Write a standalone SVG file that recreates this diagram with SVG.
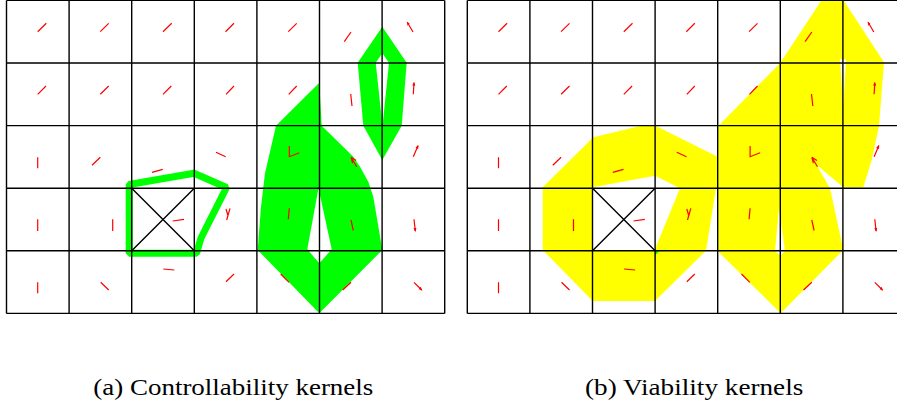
<svg xmlns="http://www.w3.org/2000/svg" xmlns:xlink="http://www.w3.org/1999/xlink" width="897" height="405" viewBox="0 0 897 405">
<style>
.grid{fill:none;stroke:#000;stroke-width:1.4}
.g{fill:#00ff00;stroke:none}
.y{fill:#ffff00;stroke:none}
.hole{fill:#fff;stroke:none}
.ring{fill:none;stroke:#00ff00;stroke-width:7;stroke-linejoin:bevel}
.ar{fill:none;stroke:#ff0000;stroke-width:1.2;marker-end:url(#ah)}
.ar2{fill:none;stroke:#ff0000;stroke-width:1.2;stroke-linejoin:miter}
.cap{font-family:"Liberation Serif","Times New Roman",serif;font-size:23px;fill:#000}
</style>
<defs>
<marker id="ah" viewBox="0 0 4 4" refX="3" refY="2" markerWidth="4" markerHeight="4" markerUnits="userSpaceOnUse" orient="auto">
<path d="M0,0.5 L4,2 L0,3.5z" fill="#ff0000"/>
</marker>
<g id="field">
<path class="ar" d="M37.7,31.7L46.3,23.3M100.3,31.7L108.7,23.3M163,31.7L171.7,23.3M225.5,31.7L234,23.3M288.3,31.7L296.7,23.3M351,32L344.3,41.7M413,32L407.3,22.3"/>
<path class="ar" d="M37.7,94.3L46,86M100.3,94.3L108.7,86M163,94.3L171.3,86M226,94.3L234,86M288.7,94.3L296.7,86M350.7,94L352,106M413.3,94.3L414,82.7"/>
<path class="ar" d="M37.7,157.3L37.7,168.3M100.3,157.3L92,165.3M162.7,169.3L152,172.3M225.7,156.7L216,152.3M413.3,156.7L418,145.7"/>
<path class="ar2" d="M289.3,146L289.3,156.7L299.3,152.7M356.7,166.7L351,157.3M351,157.3L352.6,163.2M351,157.3L356.2,160.6"/>
<path class="ar" d="M37.7,219.3L37.7,231M112.7,219.3L112.7,231M184,219.3L172.7,221M288.3,219.3L289.3,208.3M351,220L353.3,230.5M414,219.3L415.3,231"/>
<path class="ar2" d="M230,208.3L226.7,220M226,209L227.8,215"/>
<path class="ar" d="M37.7,282.3L37.7,293.3M100.7,282.3L108.7,290M163.3,269L174.3,270M226,281.7L234,274M289,282.3L280.7,274M351,282.3L342.7,290M414,282.3L421.7,290"/>
</g>
</defs>
<rect width="897" height="405" fill="#fff"/>

<g id="panel-a">
<g id="kernels-a">
<path class="g" fill-rule="evenodd" d="M319.3,82.7L321.7,125.7L353.3,156.7L360,166.7L368.3,181.7L373.3,196.7L382.3,250L319.3,313.3L257.7,250L261,206.7L265,173.3L272.7,140L276,125.7Z M318.5,188.3L331.7,249.3L319.3,263.3L307.3,249.3Z"/>
<path class="g" fill-rule="evenodd" d="M382.3,26.7L406.7,62.7L401.7,125.7L382.3,160L363.3,125.7L357.7,62.7Z M382.3,53.3L389,62.7L382.5,126L375.7,62.7Z"/>
<path class="ring" d="M129.2,184.5L194,173.3L226.5,187.5L201,238L196.5,253.3L129.2,253.3Z"/>
</g>
<g id="grid-a">
<path class="grid" d="M6.5,0.4V313.4M69.1,0.4V313.4M131.7,0.4V313.4M194.3,0.4V313.4M256.9,0.4V313.4M319.5,0.4V313.4M382.1,0.4V313.4M444.7,0.4V313.4M6.5,0.4H444.7M6.5,63H444.7M6.5,125.6H444.7M6.5,188.2H444.7M6.5,250.8H444.7M6.5,313.4H444.7"/>
<path class="grid" d="M131.7,188.2L194.3,250.8M194.3,188.2L131.7,250.8"/>
</g>
<use id="field-a" xlink:href="#field" href="#field"/>
<text id="caption-a" class="cap" x="93.3" y="395" textLength="280" lengthAdjust="spacingAndGlyphs">(a) Controllability kernels</text>
</g>

<g id="panel-b">
<g id="kernels-b">
<path class="y" fill-rule="evenodd" d="M542.7,187.3L593.3,137.3L640,126L656,126L717.7,156.7L718,188.3L716,188.3L706,250.7L655,301L592.7,301L542.7,250Z M592.7,187.3L655,175.7L680,188.3L656.7,245L655,250.7L592.7,250.7Z"/>
<path class="y" fill-rule="evenodd" d="M821.7,0L843.3,0L884,62.3L879,126L871.7,160L863.3,187.3L843.3,187.3L816.7,165L830,188.3L843.3,250L780.7,313.3L718.3,251.7L718.3,126L780,63.3Z M840,59L846,59.5L843.3,107Z M779,208L785,250.7L780.5,256L775,250.7Z"/>
<path class="g" d="M655,250.7L659.5,250.7L655,255.5Z"/>
</g>
<g id="grid-b">
<path class="grid" d="M467.3,0.4V313.4M529.9,0.4V313.4M592.5,0.4V313.4M655.1,0.4V313.4M717.7,0.4V313.4M780.3,0.4V313.4M842.9,0.4V313.4M467.3,0.4H905.5M467.3,63H905.5M467.3,125.6H905.5M467.3,188.2H905.5M467.3,250.8H905.5M467.3,313.4H905.5"/>
<path class="grid" d="M592.5,188.2L655.1,250.8M655.1,188.2L592.5,250.8"/>
</g>
<use id="field-b" xlink:href="#field" href="#field" transform="translate(460.8,0)"/>
<text id="caption-b" class="cap" x="585" y="395" textLength="218.3" lengthAdjust="spacingAndGlyphs">(b) Viability kernels</text>
</g>
</svg>
